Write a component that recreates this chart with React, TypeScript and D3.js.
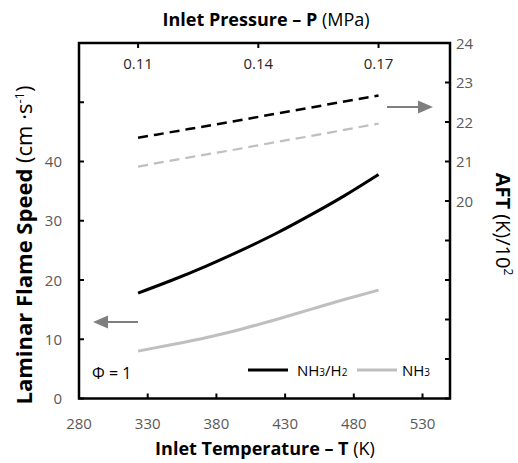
import React from "react";
import * as d3 from "d3";

const temperatures = [323, 348, 373, 398, 423, 448, 473, 498];
const lfsNH3H2 = [17.8, 20.0, 22.4, 25.0, 27.8, 30.9, 34.2, 37.8];
const lfsNH3 = [8.0, 9.1, 10.3, 11.7, 13.3, 15.0, 16.7, 18.3];
const aftNH3H2 = [21.6, 21.75, 21.9, 22.05, 22.21, 22.36, 22.52, 22.67];
const aftNH3 = [20.87, 21.03, 21.18, 21.33, 21.49, 21.64, 21.8, 21.96];

const xTicks = [280, 330, 380, 430, 480, 530];
const leftTicks = [0, 10, 20, 30, 40, 50, 60];
const leftLabels = [0, 10, 20, 30, 40];
const rightTicks = [15, 16, 17, 18, 19, 20, 21, 22, 23, 24];
const rightLabels = [20, 21, 22, 23, 24];
const pressureTicks = [0.11, 0.14, 0.17];
const pressureRange = [0.11, 0.17];

const W = 518;
const H = 463;
const L = 79, R = 450, T = 43, B = 398.5;
const FONT = "'Open Sans', Lato, sans-serif";
const GRAY_TXT = "#595959";
const LIGHT = "#bfbfbf";
const ARROW = "#7f7f7f";

export default function App() {
  const x = d3.scaleLinear().domain([280, 550]).range([L, R]);
  const yL = d3.scaleLinear().domain([0, 60]).range([B, T]);
  const yR = d3.scaleLinear().domain([15, 24]).range([B, T]);
  const xP = d3
    .scaleLinear()
    .domain(pressureRange)
    .range([x(temperatures[0]), x(temperatures[temperatures.length - 1])]);

  const lineL = d3
    .line<number>()
    .x((_, i) => x(temperatures[i]))
    .y((d) => yL(d))
    .curve(d3.curveMonotoneX);
  const lineR = d3
    .line<number>()
    .x((_, i) => x(temperatures[i]))
    .y((d) => yR(d))
    .curve(d3.curveMonotoneX);

  const tk = 5;
  const tickFs = 15;
  const titleFs = 18;

  return (
    <svg
      width={W}
      height={H}
      style={{ position: "absolute", left: 0, top: 0, background: "#fff" }}
      fontFamily={FONT}
    >
      <rect x={0} y={0} width={W} height={H} fill="#fff" />

      {/* series */}
      <path d={lineR(aftNH3H2) || ""} fill="none" stroke="#000" strokeWidth={2.5} strokeDasharray="10 6" />
      <path d={lineR(aftNH3) || ""} fill="none" stroke={LIGHT} strokeWidth={2.2} strokeDasharray="10 6" />
      <path d={lineL(lfsNH3H2) || ""} fill="none" stroke="#000" strokeWidth={3} />
      <path d={lineL(lfsNH3) || ""} fill="none" stroke={LIGHT} strokeWidth={3} />

      {/* frame */}
      <rect x={L} y={T} width={R - L} height={B - T} fill="none" stroke="#000" strokeWidth={2.5} />

      {/* bottom ticks */}
      {xTicks.map((t) => (
        <g key={"bx" + t}>
          {t > 280 && <line x1={x(t)} x2={x(t)} y1={B} y2={B - tk} stroke="#000" strokeWidth={2} />}
          <text x={x(t)} y={429} textAnchor="middle" fontSize={tickFs} fill={GRAY_TXT}>
            {t}
          </text>
        </g>
      ))}

      {/* top pressure ticks */}
      {pressureTicks.map((p) => (
        <g key={"p" + p}>
          <line x1={xP(p)} x2={xP(p)} y1={T} y2={T + tk} stroke="#000" strokeWidth={2} />
          <text x={xP(p)} y={68.5} textAnchor="middle" fontSize={tickFs} fill="#262626">
            {p.toFixed(2)}
          </text>
        </g>
      ))}

      {/* left ticks */}
      {leftTicks.map((v) => (
        <line key={"lt" + v} x1={L} x2={L + tk} y1={yL(v)} y2={yL(v)} stroke="#000" strokeWidth={2} />
      ))}
      {leftLabels.map((v) => (
        <text key={"ll" + v} x={62} y={yL(v) + 5.5} textAnchor="end" fontSize={tickFs} fill={GRAY_TXT}>
          {v}
        </text>
      ))}

      {/* right ticks */}
      {rightTicks.map((v) => (
        <line key={"rt" + v} x1={R} x2={R - tk} y1={yR(v)} y2={yR(v)} stroke="#000" strokeWidth={2} />
      ))}
      {rightLabels.map((v) => (
        <text key={"rl" + v} x={456} y={yR(v) + 5.5} textAnchor="start" fontSize={tickFs} fill={GRAY_TXT}>
          {v}
        </text>
      ))}

      {/* titles */}
      <text x={266} y={26} textAnchor="middle" fontSize={titleFs} fill="#000">
        <tspan fontWeight="bold">Inlet Pressure – P</tspan>
        <tspan> (MPa)</tspan>
      </text>
      <text x={265} y={455} textAnchor="middle" fontSize={titleFs} fill="#000">
        <tspan fontWeight="bold">Inlet Temperature – T</tspan>
        <tspan> (K)</tspan>
      </text>
      <text
        transform={`translate(32,245) rotate(-90)`}
        textAnchor="middle"
        fontSize={22}
        fill="#000"
      >
        <tspan fontWeight="bold">Laminar Flame Speed</tspan>
        <tspan> (cm</tspan>
        <tspan> ·s</tspan>
        <tspan fontSize={13} dy={-8}>-1</tspan>
        <tspan dy={8}>)</tspan>
      </text>
      <text
        transform={`translate(496,224) rotate(90)`}
        textAnchor="middle"
        fontSize={20}
        fill="#000"
      >
        <tspan fontWeight="bold">AFT</tspan>
        <tspan> (K)/10</tspan>
        <tspan fontSize={12} dy={-8}>2</tspan>
      </text>

      {/* arrows */}
      <line x1={387} x2={420} y1={107} y2={107} stroke={ARROW} strokeWidth={2} />
      <path d="M433,107 L418,100.5 L418,113.5 Z" fill={ARROW} />
      <line x1={138} x2={106} y1={322} y2={322} stroke={ARROW} strokeWidth={2} />
      <path d="M93,322 L108,315.5 L108,328.5 Z" fill={ARROW} />

      {/* Phi */}
      <text x={92} y={379} fontSize={16} fill="#000">Φ = 1</text>

      {/* legend */}
      <line x1={248} x2={288} y1={370} y2={370} stroke="#000" strokeWidth={3} />
      <text x={297} y={376} fontSize={15} fill="#000">
        NH<tspan fontSize={10}>3</tspan>/H<tspan fontSize={10}>2</tspan>
      </text>
      <line x1={357} x2={397} y1={370} y2={370} stroke={LIGHT} strokeWidth={3} />
      <text x={402} y={376} fontSize={15} fill="#000">
        NH<tspan fontSize={10}>3</tspan>
      </text>
    </svg>
  );
}
